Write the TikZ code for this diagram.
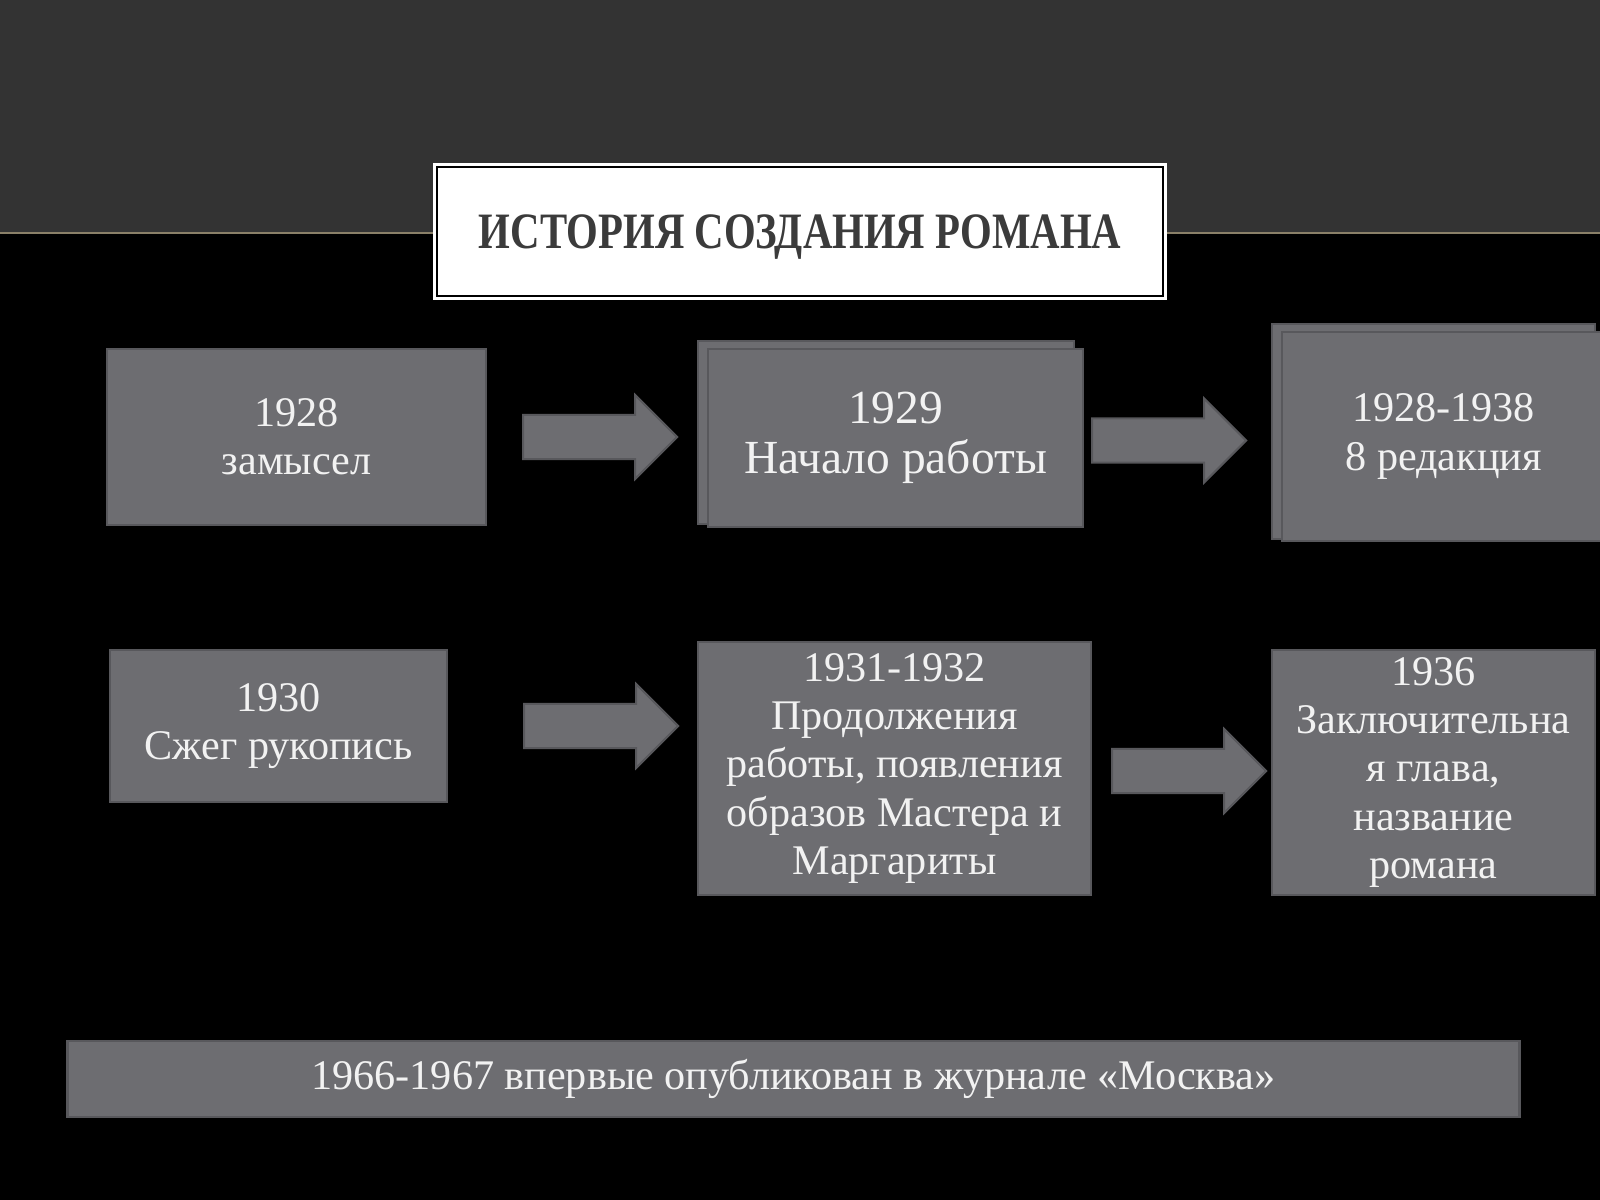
\documentclass[tikz,border=0pt]{standalone}
\usepackage{fontspec}
\setmainfont{Liberation Serif}
\newfontfamily\titlefont[FakeStretch=0.8]{Liberation Serif}
\usetikzlibrary{shapes.arrows}

\definecolor{band}{HTML}{333333}
\definecolor{seam}{HTML}{8A8068}
\definecolor{cardfill}{HTML}{6D6D71}
\definecolor{cardline}{HTML}{58585C}
\definecolor{titleink}{HTML}{3B3B3B}

\begin{document}
\begin{tikzpicture}[x=0.01cm, y=-0.01cm,
	every node/.style={font=\fontsize{12}{13.7}\selectfont, text=white!95!black},
	card/.style={draw=cardline, fill=cardfill, line width=0.25mm, align=center, inner sep=0pt},
	blockarrow/.style={single arrow, draw=cardline, fill=cardfill, line width=0.2mm, minimum height=15.4mm, single arrow head extend=2mm, inner sep=2.1mm, anchor=tail}]
	\clip (0,0) rectangle (1600,1200);
	\fill[black] (0,0) rectangle (1600,1200);
	\fill[band] (0,0) rectangle (1600,233);
	\draw[seam, line width=0.2mm] (0,233) -- (1600,233);
	% title
	\node[fill=white, draw=white, double=black, double distance=0.2mm, line width=0.3mm, minimum width=72.6mm, minimum height=12.9mm, text height=3.4mm, text depth=0pt, text=titleink, font=\titlefont\bfseries\fontsize{14.5}{16}\selectfont] (title) at (800,231.5) {ИСТОРИЯ СОЗДАНИЯ РОМАНА};
	% upper row
	\node[card, minimum width=37.9mm, minimum height=17.6mm] (idea) at (296.5,437) {1928\\замысел};
	\node[card, minimum width=37.6mm, minimum height=18.3mm] (startback) at (886,432.5) {};
	\node[card, minimum width=37.5mm, minimum height=17.8mm, font=\fontsize{13.5}{14.3}\selectfont] (start) at (895.5,438) {1929\\Начало работы};
	\node[card, minimum width=32.3mm, minimum height=21.5mm] (editback) at (1433.5,431.5) {};
	\node[card, minimum width=32.3mm, minimum height=20.9mm] (edit) at (1443.5,436.5) {1928-1938\\8 редакция};
	% lower row
	\node[card, minimum width=33.7mm, minimum height=15.2mm] (burn) at (278.5,726) {1930\\Сжег рукопись};
	\node[card, minimum width=39.3mm, minimum height=25.3mm] (resume) at (894.5,768.5) {1931-1932\\Продолжения\\работы, появления\\образов Мастера и\\Маргариты};
	\node[card, minimum width=32.3mm, minimum height=24.5mm] (final) at (1433.5,772.5) {1936\\Заключительна\\я глава,\\название\\романа};
	% arrows
	\node[blockarrow] (a1) at (522,437) {};
	\node[blockarrow] (a2) at (1091,440.5) {};
	\node[blockarrow] (a3) at (523,726) {};
	\node[blockarrow] (a4) at (1111,771) {};
	% bottom bar
	\node[card, minimum width=145.1mm, minimum height=7.6mm] (print) at (793.5,1079) {1966-1967 впервые опубликован в журнале «Москва»};
\end{tikzpicture}
\end{document}
